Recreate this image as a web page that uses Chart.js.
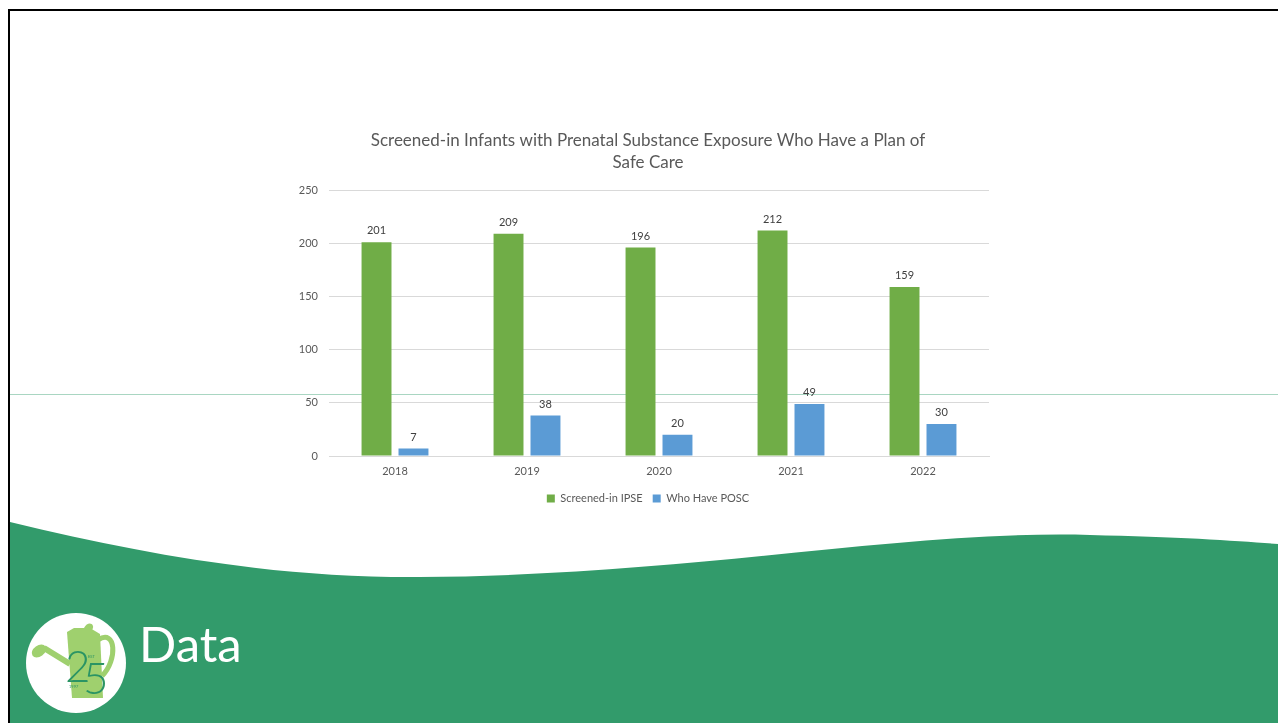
<!DOCTYPE html>
<html>
<head>
<meta charset="utf-8">
<script src="https://cdn.jsdelivr.net/npm/chart.js@4"></script>
<style>
  html, body { margin: 0; padding: 0; background: #fff; }
  body { width: 1278px; height: 723px; position: relative; overflow: hidden; font-family: Lato, "Open Sans", sans-serif; }
  #frame { position: absolute; left: 8px; top: 9px; width: 1280px; height: 720px; border-top: 2px solid #000; border-left: 2px solid #000; }
  #rule { position: absolute; left: 10px; top: 394px; width: 1268px; height: 0; border-top: 1.5px solid #a9d6c2; }
  #chartBox { position: absolute; left: 290px; top: 120px; width: 720px; height: 400px; }
  #bg { position: absolute; left: 0; top: 0; }
  #title { position: absolute; left: 139px; top: 614px; color: #fff; font-size: 49px; font-weight: 400; }
</style>
</head>
<body>
<div id="frame"></div>
<div id="rule"></div>
<div id="chartBox"><canvas id="posChart"></canvas></div>

<svg id="bg" width="1278" height="723">
  <path d="M10 522 C 150 556, 280 578, 420 577 C 700 575, 900 530, 1090 535 C 1180 537, 1240 541, 1278 544 L1278 723 L10 723 Z" fill="#329b6b"/>
  <circle cx="76" cy="663" r="50" fill="#fff"/>
  <!-- watering can -->
  <path d="M67 632 L74 628 L90 628 L100 634 L103 698 L72 698 Z" fill="#9fd06e"/>
  <path d="M84 628 C 88 620, 96 624, 92 630 Z" fill="#9fd06e"/>
  <path d="M98 640 C 116 628, 118 660, 102 676" stroke="#9fd06e" stroke-width="5" fill="none"/>
  <path d="M70 664 L44 648" stroke="#9fd06e" stroke-width="6"/>
  <ellipse cx="39" cy="651" rx="8" ry="5.5" fill="#9fd06e" transform="rotate(-35 39 651)"/>
  <text x="65" y="682" font-family="Lato, sans-serif" font-weight="300" font-size="44" fill="#2a9464">2</text>
  <text x="83" y="694" font-family="Lato, sans-serif" font-weight="300" font-size="44" fill="#2a9464">5</text>
  <text x="88" y="658" font-family="Lato, sans-serif" font-size="4" fill="#2a9464">EST</text>
  <text x="69" y="688" font-family="Lato, sans-serif" font-size="4" fill="#2a9464">1997</text>
</svg>
<div id="title">Data</div>

<script>
const years = ["2018", "2019", "2020", "2021", "2022"];
const screenedIn = [201, 209, 196, 212, 159];
const haveplan = [7, 38, 20, 49, 30];
const yTicks = { min: 0, max: 250, step: 50 };

const greenColor = "#70ad47";
const blueColor = "#5b9bd5";
const textColor = "#595959";

// puts the value above each bar
const valueLabels = {
    id: "valueLabels",
    afterDatasetsDraw(chart) {
        const ctx = chart.ctx;
        ctx.save();
        ctx.font = "11px Lato, sans-serif";
        ctx.fillStyle = "#404040";
        ctx.textAlign = "center";
        ctx.textBaseline = "bottom";
        chart.data.datasets.forEach((ds, i) => {
            chart.getDatasetMeta(i).data.forEach((bar, j) => {
                ctx.fillText(ds.data[j], bar.x, bar.y - 6);
            });
        });
        ctx.restore();
    }
};

const ctx = document.getElementById("posChart").getContext("2d");
new Chart(ctx, {
    type: "bar",
    data: {
        labels: years,
        datasets: [
            { label: "Screened-in IPSE", data: screenedIn, backgroundColor: greenColor },
            { label: "Who Have POSC", data: haveplan, backgroundColor: blueColor }
        ]
    },
    options: {
        responsive: true,
        maintainAspectRatio: false,
        animation: false,
        categoryPercentage: 0.56,
        barPercentage: 0.81,
        layout: { padding: { left: 0, right: 4, top: 0, bottom: 6 } },
        plugins: {
            title: {
                display: true,
                text: ["Screened-in Infants with Prenatal Substance Exposure Who Have a Plan of", "Safe Care"],
                color: textColor,
                font: { family: "Lato, sans-serif", size: 17, weight: "normal", lineHeight: 1.3 },
                padding: { top: 9, bottom: 17 }
            },
            legend: {
                position: "bottom",
                labels: {
                    color: textColor,
                    boxWidth: 8,
                    boxHeight: 8,
                    padding: 10,
                    font: { family: "Lato, sans-serif", size: 11 }
                }
            },
            tooltip: { enabled: false }
        },
        scales: {
            x: {
                grid: { display: false },
                border: { color: "#d9d9d9" },
                ticks: { color: textColor, font: { family: "Lato, sans-serif", size: 11 }, padding: 1 },
                afterFit(scale) { scale.height = 27; }
            },
            y: {
                min: yTicks.min,
                max: yTicks.max,
                grid: { color: "#d9d9d9", drawTicks: false },
                border: { display: false },
                ticks: { stepSize: yTicks.step, color: textColor, font: { family: "Lato, sans-serif", size: 11 }, padding: 11 },
                afterFit(scale) { scale.width = 39; }
            },
            // empty right-hand spacer so the title and legend sit where the original has them
            spacer: {
                type: "linear",
                position: "right",
                grid: { display: false },
                border: { display: false },
                ticks: { display: false },
                afterFit(scale) { scale.width = 17; }
            }
        }
    },
    plugins: [valueLabels]
});
</script>
</body>
</html>
